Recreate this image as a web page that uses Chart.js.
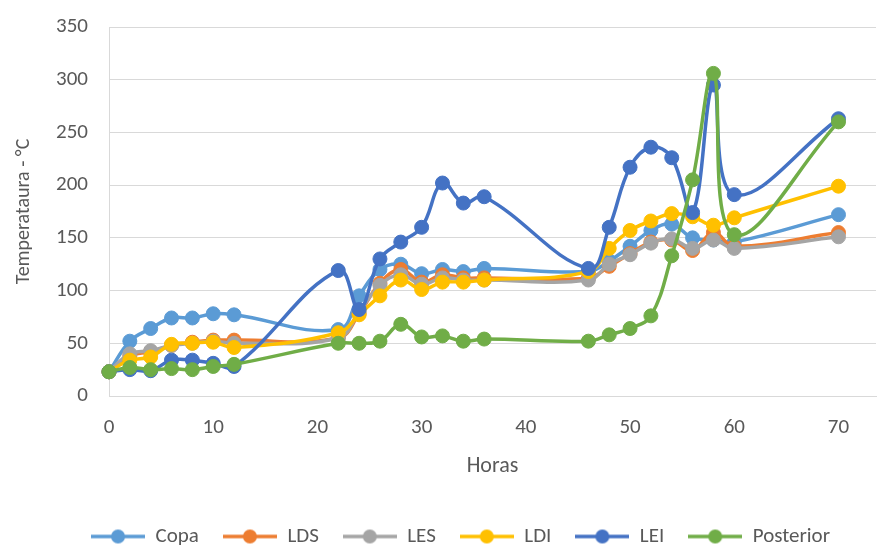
<!DOCTYPE html>
<html>
<head>
<meta charset="utf-8">
<script src="https://cdn.jsdelivr.net/npm/chart.js@4/dist/chart.umd.min.js"></script>
<style>
  html, body { margin: 0; padding: 0; background: #ffffff; }
  #wrap { width: 884px; height: 548px; }
</style>
</head>
<body>
<div id="wrap"><canvas id="chart" width="884" height="548"></canvas></div>
<script>
// Hours of measurement
const hours = [0, 2, 4, 6, 8, 10, 12, 22, 24, 26, 28, 30, 32, 34, 36, 46, 48, 50, 52, 54, 56, 58, 60, 70];

// Temperature (°C) per position
const copa      = [23, 52, 64, 74, 74, 78, 77, 63, 95, 120, 125, 116, 120, 118, 121, 118, 128, 142, 157, 163, 150, 148, 146, 172];
const lds       = [23, 38, 42, 48, 51, 53, 53, 55, 78, 107, 120, 108, 115, 112, 112, 112, 123, 135, 146, 148, 138, 155, 142, 155];
const les       = [23, 40, 43, 48, 50, 52, 50, 55, 80, 105, 115, 106, 112, 110, 110, 110, 125, 134, 145, 149, 140, 148, 140, 151];
const ldi       = [23, 34, 37, 49, 50, 51, 46, 60, 77, 95, 110, 101, 108, 108, 110, 118, 140, 157, 166, 173, 170, 162, 169, 199];
const lei       = [23, 25, 24, 34, 34, 31, 28, 119, 82, 130, 146, 160, 202, 183, 189, 121, 160, 217, 236, 226, 174, 295, 191, 263];
const posterior = [23, 27, 25, 26, 25, 28, 30, 50, 50, 52, 68, 56, 57, 52, 54, 52, 58, 64, 76, 133, 205, 306, 153, 260];

const seriesNames  = ['Copa', 'LDS', 'LES', 'LDI', 'LEI', 'Posterior'];
const seriesValues = [copa, lds, les, ldi, lei, posterior];
const seriesColors = ['#5B9BD5', '#ED7D31', '#A5A5A5', '#FFC000', '#4472C4', '#70AD47'];

const TEXT = '#595959';
const FONT = 'Carlito, "Open Sans", Lato, sans-serif';

// Legend marker: short line with a dot in the middle
function legendMarker(color) {
  const c = document.createElement('canvas');
  c.width = 54; c.height = 16;
  const g = c.getContext('2d');
  g.strokeStyle = color; g.lineWidth = 3.5;
  g.beginPath(); g.moveTo(0, 8); g.lineTo(54, 8); g.stroke();
  g.fillStyle = color;
  g.beginPath(); g.arc(27, 8, 7, 0, Math.PI * 2); g.fill();
  return c;
}
const markers = seriesColors.map(legendMarker);

const datasets = seriesNames.map((name, i) => ({
  label: name,
  data: hours.map((h, k) => ({ x: h, y: seriesValues[i][k] })),
  borderColor: seriesColors[i],
  backgroundColor: seriesColors[i],
  pointBackgroundColor: seriesColors[i],
  pointBorderColor: seriesColors[i],
  borderWidth: 3.5,
  pointRadius: 7,
  pointBorderWidth: 1,
  tension: 0.4,
  clip: false,
  order: seriesNames.length - 1 - i   // later series drawn on top
}));

new Chart(document.getElementById('chart'), {
  type: 'line',
  data: { datasets },
  options: {
    responsive: false,
    animation: false,
    devicePixelRatio: 1,
    layout: { padding: { left: 38, right: 1, top: 27, bottom: 0 } },
    plugins: {
      tooltip: { enabled: false },
      legend: {
        position: 'bottom',
        maxHeight: 46,
        labels: {
          usePointStyle: true,
          pointStyleWidth: 54,
          padding: 24,
          color: TEXT,
          font: { family: FONT, size: 21 },
          sort: (a, b) => a.datasetIndex - b.datasetIndex,
          generateLabels(chart) {
            const items = Chart.defaults.plugins.legend.labels.generateLabels(chart);
            items.forEach(it => { it.pointStyle = markers[it.datasetIndex]; });
            return items;
          }
        }
      }
    },
    scales: {
      x: {
        type: 'linear',
        min: 0,
        max: 73.6,
        afterBuildTicks: s => { s.ticks = s.ticks.filter(t => t.value % 10 === 0); },
        afterFit: s => { s.height = 106; },
        ticks: { stepSize: 10, includeBounds: false, padding: 19, color: TEXT, font: { family: FONT, size: 21 } },
        grid: { display: false, drawTicks: false },
        border: { display: true, color: '#D9D9D9', width: 1 },
        title: { display: true, text: 'Horas', color: TEXT, font: { family: FONT, size: 22 }, padding: { top: 0, bottom: 22 } }
      },
      y: {
        min: 0,
        max: 350,
        afterFit: s => { s.width = 71; s.paddingTop = 0; s.paddingBottom = 0; },
        ticks: { stepSize: 50, padding: 21, color: TEXT, font: { family: FONT, size: 21 } },
        grid: { color: '#D9D9D9', lineWidth: 1, drawTicks: false },
        border: { display: true, color: '#D9D9D9', width: 1 },
        title: { display: true, text: 'Temperataura - °C', color: TEXT, font: { family: FONT, size: 20 }, padding: { top: -26, bottom: 0 } }
      }
    }
  }
});
</script>
</body>
</html>
